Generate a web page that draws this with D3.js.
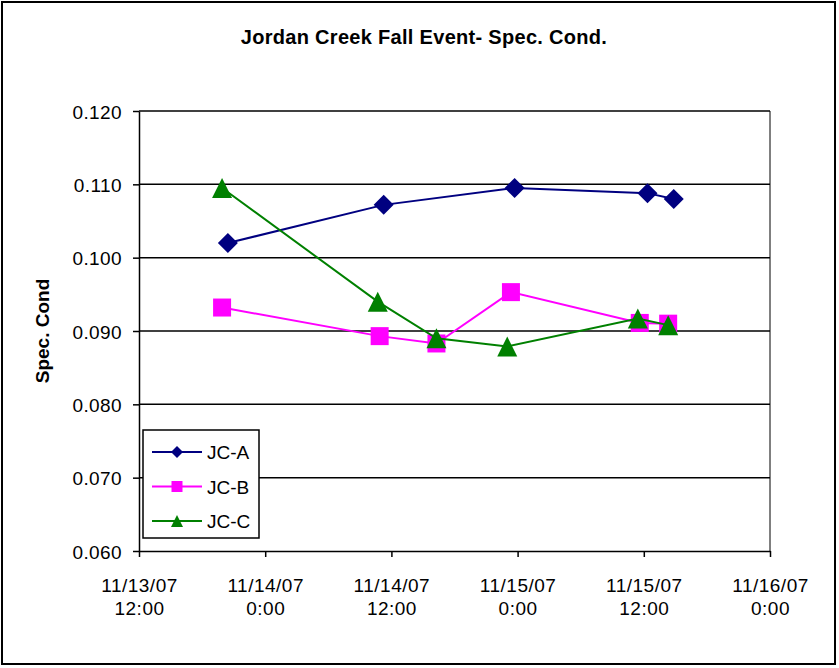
<!DOCTYPE html>
<html>
<head>
<meta charset="utf-8">
<script src="https://cdn.jsdelivr.net/npm/d3@7"></script>
<style>
body{margin:0;background:#fff;}
text{font-family:"Liberation Sans",Arial,sans-serif;}
</style>
</head>
<body>
<svg id="s"></svg>
<script>
var seriesNames = ['JC-A','JC-B','JC-C'];
var seriesColors = ['#000080','#ff00ff','#008000'];
var timesA = ['2007-11-13T20:27','2007-11-14T11:16','2007-11-14T23:43','2007-11-15T12:21','2007-11-15T14:51'];
var valuesA = [0.1020,0.1072,0.1095,0.1088,0.1080];
var timesB = ['2007-11-13T19:54','2007-11-14T10:53','2007-11-14T16:17','2007-11-14T23:22','2007-11-15T11:37','2007-11-15T14:19'];
var valuesB = [0.0932,0.0893,0.0883,0.0953,0.0911,0.0910];
var timesC = ['2007-11-13T19:54','2007-11-14T10:42','2007-11-14T16:17','2007-11-14T23:01','2007-11-15T11:26','2007-11-15T14:19'];
var valuesC = [0.1095,0.0940,0.0890,0.0879,0.0917,0.0908];
var yTicks = [0.060,0.070,0.080,0.090,0.100,0.110,0.120];
var xTicks = ['2007-11-13T12:00','2007-11-14T00:00','2007-11-14T12:00','2007-11-15T00:00','2007-11-15T12:00','2007-11-16T00:00'];

var W = 839, H = 668;
var m = {left:139, right:770, top:111, bottom:551};
var parse = d3.isoParse;

var s = d3.select('#s').attr('width', W).attr('height', H);

s.append('rect').attr('x',2).attr('y',2).attr('width',833).attr('height',662)
  .attr('fill','#fff').attr('stroke','#000').attr('stroke-width',2);

var x = d3.scaleTime()
  .domain([parse(xTicks[0]), parse(xTicks[xTicks.length-1])])
  .range([m.left, m.right]);
var y = d3.scaleLinear().domain([0.060,0.120]).range([m.bottom, m.top]);

// gridlines
s.append('g').selectAll('line').data(yTicks.slice(1)).enter().append('line')
  .attr('x1',m.left).attr('x2',m.right)
  .attr('y1',function(d){return y(d);}).attr('y2',function(d){return y(d);})
  .attr('stroke','#000').attr('stroke-width',1.5);

// right border of plot area
s.append('line').attr('x1',m.right).attr('x2',m.right).attr('y1',m.top).attr('y2',m.bottom)
  .attr('stroke','#000').attr('stroke-width',1);

var yAxis = s.append('g').attr('transform','translate('+m.left+',0)')
  .call(d3.axisLeft(y).tickValues(yTicks).tickSize(6).tickSizeOuter(0).tickPadding(11).tickFormat(d3.format('.3f')));
var xAxis = s.append('g').attr('transform','translate(0,'+m.bottom+')')
  .call(d3.axisBottom(x).tickValues(xTicks.map(parse)).tickSize(6).tickSizeOuter(0).tickFormat(''));

[yAxis, xAxis].forEach(function(a){
  a.select('.domain').attr('stroke','#000').attr('stroke-width',1.5);
  a.selectAll('.tick line').attr('stroke','#000').attr('stroke-width',1.5);
});
yAxis.selectAll('.tick text').attr('font-size',19).attr('fill','#000').attr('dy','0.38em')
  .attr('font-family','"Liberation Sans",Arial,sans-serif').attr('letter-spacing','0.4px');

var fmtDate = d3.timeFormat('%m/%d/%y');
var fmtTime = function(d){return d.getHours()+':'+d3.timeFormat('%M')(d);};
var xl = xAxis.selectAll('.tick').append('text').attr('fill','#000').attr('font-size',19)
  .attr('text-anchor','middle').attr('letter-spacing','0.5px')
  .attr('font-family','"Liberation Sans",Arial,sans-serif');
xl.append('tspan').attr('x',0).attr('y',41).text(function(d){return fmtDate(d);});
xl.append('tspan').attr('x',0).attr('y',64).text(function(d){return fmtTime(d);});

// title and axis label
s.append('text').attr('x',424).attr('y',44).attr('text-anchor','middle')
  .attr('font-size',20).attr('font-weight','bold').attr('letter-spacing','0.3px')
  .text('Jordan Creek Fall Event- Spec. Cond.');
s.append('text').attr('transform','translate(49,331) rotate(-90)').attr('text-anchor','middle')
  .attr('font-size',19).attr('font-weight','bold').text('Spec. Cond');

// excel-like marker outlines, r = half width
function marker(type, r){
  if(type === 'diamond') return 'M0,'+(-r)+'L'+r+',0L0,'+r+'L'+(-r)+',0Z';
  if(type === 'square') return 'M'+(-r)+','+(-r)+'H'+r+'V'+r+'H'+(-r)+'Z';
  return 'M0,'+(-r)+'L'+r+','+r+'L'+(-r)+','+r+'Z';
}

var series = [
  {name:seriesNames[0], color:seriesColors[0], shape:'diamond', r:10, lr:6, pts:timesA.map(function(t,i){return {t:parse(t), v:valuesA[i]};})},
  {name:seriesNames[1], color:seriesColors[1], shape:'square', r:9, lr:5.5, pts:timesB.map(function(t,i){return {t:parse(t), v:valuesB[i]};})},
  {name:seriesNames[2], color:seriesColors[2], shape:'triangle', r:10, lr:6, pts:timesC.map(function(t,i){return {t:parse(t), v:valuesC[i]};})}
];

var line = d3.line().x(function(d){return x(d.t);}).y(function(d){return y(d.v);});

series.forEach(function(sr){
  var g = s.append('g');
  g.append('path').attr('d', line(sr.pts)).attr('fill','none')
    .attr('stroke', sr.color).attr('stroke-width',2);
  g.selectAll('path.mk').data(sr.pts).enter().append('path').attr('class','mk')
    .attr('d', marker(sr.shape, sr.r))
    .attr('transform', function(d){return 'translate('+x(d.t)+','+y(d.v)+')';})
    .attr('fill', sr.color);
});

// legend
var lg = s.append('g').attr('transform','translate(143,430)');
lg.append('rect').attr('width',116).attr('height',108).attr('fill','#fff')
  .attr('stroke','#000').attr('stroke-width',1.5);
series.forEach(function(sr,i){
  var yy = 22 + i*34.5;
  lg.append('line').attr('x1',9).attr('x2',59).attr('y1',yy).attr('y2',yy)
    .attr('stroke',sr.color).attr('stroke-width',2);
  lg.append('path').attr('d', marker(sr.shape, sr.lr))
    .attr('transform','translate(34,'+yy+')').attr('fill',sr.color);
  lg.append('text').attr('x',64).attr('y',yy+7).attr('font-size',19).text(sr.name);
});
</script>
</body>
</html>
